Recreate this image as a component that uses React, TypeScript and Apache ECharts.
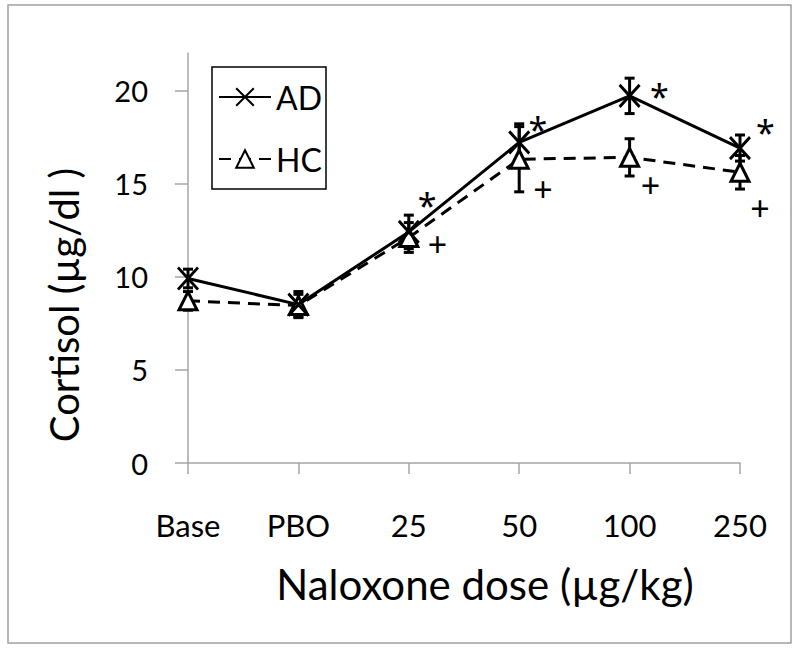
import React, { useEffect, useRef } from "react";
import * as echarts from "echarts";

const categories = ["Base", "PBO", "25", "50", "100", "250"];
const adMean = [9.9, 8.5, 12.4, 17.2, 19.7, 16.9];
const adErr = [0.5, 0.7, 0.9, 1.0, 0.95, 0.7];
const hcMean = [8.7, 8.45, 12.1, 16.3, 16.4, 15.6];
const hcErr = [0.5, 0.6, 0.8, 1.75, 1.0, 0.9];
const yTicks = [0, 5, 10, 15, 20];
// significance markers: [position along category axis, value]
const starMarks = [[2.165, 13.83], [3.17, 17.92], [4.27, 19.68], [5.23, 17.78]];
const plusMarks = [[2.26, 11.75], [3.215, 14.7], [4.19, 14.9], [5.18, 13.7]];

const FONT = "Lato";
const AXIS_GRAY = "#a6a6a6";

function errorSeries(name: string, mean: number[], err: number[]) {
  return {
    type: "custom",
    name,
    z: 3,
    renderItem: (params: any, api: any) => {
      const x = api.value(0);
      const pLo = api.coord([x, api.value(1)]);
      const pHi = api.coord([x, api.value(2)]);
      const hw = 5;
      const st = { stroke: "#000", lineWidth: 3 };
      return {
        type: "group",
        children: [
          { type: "line", shape: { x1: pLo[0], y1: pLo[1], x2: pHi[0], y2: pHi[1] }, style: st },
          { type: "line", shape: { x1: pLo[0] - hw, y1: pLo[1], x2: pLo[0] + hw, y2: pLo[1] }, style: st },
          { type: "line", shape: { x1: pHi[0] - hw, y1: pHi[1], x2: pHi[0] + hw, y2: pHi[1] }, style: st },
        ],
      };
    },
    data: mean.map((m, i) => [i, m - err[i], m + err[i]]),
    encode: { x: 0, y: [1, 2] },
  };
}

function markSeries(name: string, marks: number[][], text: string, size: number) {
  return {
    type: "scatter",
    name,
    xAxisIndex: 1,
    symbolSize: 1,
    clip: false,
    itemStyle: { color: "rgba(0,0,0,0)", opacity: 1 },
    silent: true,
    z: 5,
    label: {
      show: true,
      position: "inside",
      formatter: text,
      fontFamily: "Noto Sans",
      fontSize: size,
      color: "#000",
      opacity: 1,
    },
    data: marks,
  };
}

export default function App() {
  const ref = useRef<HTMLDivElement>(null);
  useEffect(() => {
    if (!ref.current) return;
    const chart = echarts.init(ref.current, null, { renderer: "svg" });
    chart.setOption({
      animation: false,
      backgroundColor: "#fff",
      textStyle: { fontFamily: FONT },
      grid: {
        left: 188,
        right: 60,
        top: 53,
        bottom: 191,
        containLabel: false,
        outerBoundsMode: "none",
      },
      legend: {
        data: ["AD", "HC"],
        orient: "vertical",
        left: 212,
        top: 67,
        width: 112,
        padding: [14, 4, 14, 6],
        itemWidth: 52,
        itemHeight: 22,
        itemGap: 30,
        borderColor: "#000",
        borderWidth: 1.5,
        textStyle: { fontFamily: FONT, fontSize: 32, color: "#000" },
      },
      xAxis: [
        {
          type: "category",
          data: categories,
          boundaryGap: false,
          axisLine: { lineStyle: { color: AXIS_GRAY, width: 1.5 } },
          axisTick: { show: true, length: 11, lineStyle: { color: AXIS_GRAY, width: 1.5 } },
          axisLabel: { fontFamily: FONT, fontSize: 31, color: "#000", margin: 46 },
          name: "Naloxone dose (µg/kg)",
          nameLocation: "middle",
          nameGap: 100,
          nameTextStyle: { fontFamily: FONT, fontSize: 42, color: "#000", padding: [0, 0, 0, 42] },
        },
        { type: "value", min: 0, max: 5, show: false },
      ],
      yAxis: {
        type: "value",
        min: 0,
        max: 22,
        interval: 5,
        splitLine: { show: false },
        axisLine: { show: true, lineStyle: { color: AXIS_GRAY, width: 1.5 } },
        axisTick: { show: true, length: 13, customValues: yTicks, lineStyle: { color: AXIS_GRAY, width: 1.5 } },
        axisLabel: { fontFamily: FONT, fontSize: 29, color: "#000", margin: 40, customValues: yTicks },
        name: "Cortisol (µg/dl )",
        nameLocation: "middle",
        nameGap: 104,
        nameRotate: 90,
        nameTextStyle: { fontFamily: FONT, fontSize: 40, color: "#000", padding: [0, 94, 0, 0] },
      },
      graphic: [
        {
          type: "rect",
          shape: { x: 8, y: 5, width: 783, height: 638 },
          style: { fill: "none", stroke: "#a0a0a0", lineWidth: 1.5 },
          silent: true,
        },
      ],
      series: [
        errorSeries("AD err", adMean, adErr),
        errorSeries("HC err", hcMean, hcErr),
        {
          type: "line",
          name: "HC",
          data: hcMean,
          z: 4,
          symbol: "triangle",
          symbolSize: [18, 18],
          color: "#000",
          itemStyle: { color: "#fff", borderColor: "#000", borderWidth: 3 },
          lineStyle: { color: "#000", width: 3, type: [12, 8] },
        },
        {
          type: "line",
          name: "AD",
          data: adMean,
          z: 4,
          symbol: "path://M0 0L20 22M20 0L0 22",
          symbolSize: [20, 22],
          color: "#000",
          itemStyle: { color: "#000", borderColor: "#000", borderWidth: 3 },
          lineStyle: { color: "#000", width: 3 },
        },
        markSeries("sigAD", starMarks, "*", 34),
        markSeries("sigHC", plusMarks, "+", 34),
      ],
    });
    return () => chart.dispose();
  }, []);
  return (
    <div
      ref={ref}
      style={{ position: "absolute", left: 0, top: 0, width: 800, height: 654 }}
    />
  );
}
